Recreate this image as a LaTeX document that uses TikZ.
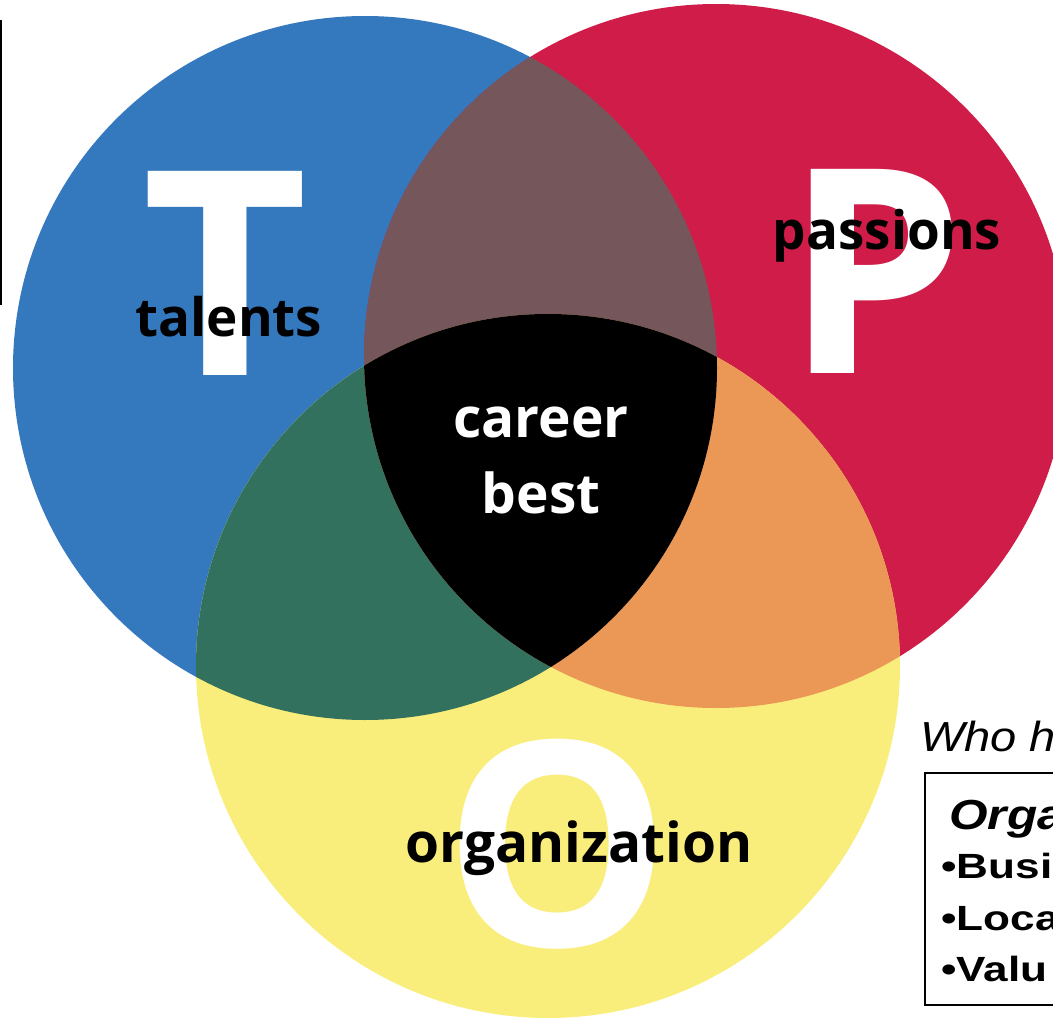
\documentclass[tikz,border=0pt]{standalone}
\usepackage{fontspec}
\newfontfamily\vennfont{Open Sans}
\newfontfamily\arialfont{Liberation Sans}
\definecolor{cblue}{HTML}{3478BE}
\definecolor{cred}{HTML}{D01C48}
\definecolor{cyellow}{HTML}{F9EE7B}
\definecolor{cbrown}{HTML}{74565B}
\definecolor{cgreen}{HTML}{33715F}
\definecolor{corange}{HTML}{EB9857}
\tikzset{
  bigletter/.style={inner sep=0pt, anchor=base, text=white, font=\vennfont\bfseries\fontsize{286}{286}\selectfont},
  vennlabel/.style={inner sep=0pt, anchor=base, text=black, font=\vennfont\bfseries\fontsize{53}{53}\selectfont},
  centerlabel/.style={inner sep=0pt, anchor=base, text=white, font=\vennfont\bfseries\fontsize{55}{55}\selectfont},
  sidetext/.style={inner sep=0pt, anchor=base west, text=black},
  itemtext/.style={sidetext, xscale=1.26, font=\arialfont\bfseries\fontsize{35}{35}\selectfont},
}
\begin{document}
\begin{tikzpicture}[x=1pt,y=-1pt]
\useasboundingbox (0,0) rectangle (1053,1019);
\begin{scope}
\clip (0,0) rectangle (1053,1019);
% circles
\fill[cblue] (365,368) circle (352);
\fill[cred] (716,356) circle (352);
\fill[cyellow] (548,666) circle (352);
\begin{scope}
  \clip (365,368) circle (352);
  \fill[cbrown] (716,356) circle (352);
  \fill[cgreen] (548,666) circle (352);
\end{scope}
\begin{scope}
  \clip (716,356) circle (352);
  \fill[corange] (548,666) circle (352);
\end{scope}
\begin{scope}
  \clip (365,368) circle (352);
  \clip (716,356) circle (352);
  \fill[black] (548,666) circle (352);
\end{scope}
% big letters
\node[bigletter] (T) at (225,375) {T};
\node[bigletter] (P) at (875,373) {P};
\node[bigletter] (O) at (557,946) {O};
% labels
\node[vennlabel] (talents) at (229,337) {talents};
\node[vennlabel] (passions) at (887,250) {passions};
\node[vennlabel, font=\vennfont\bfseries\fontsize{55}{55}\selectfont] (organization) at (579,862) {organization};
\node[centerlabel] (career) at (541,437) {career};
\node[centerlabel] (best) at (541,513) {best};
% left border line
\coordinate (lt) at (1,20);
\coordinate (lb) at (1,305);
\draw[line width=2] (lt) -- (lb);
% right side text
\node[sidetext, xscale=1.12, font=\arialfont\itshape\fontsize{42}{42}\selectfont] (who) at (920,751) {Who h};
\draw[line width=2] (925,773) rectangle (1075,1005);
\node[sidetext, xscale=1.18, font=\arialfont\bfseries\itshape\fontsize{42}{42}\selectfont] (orga) at (949,829) {Orga};
\node[itemtext] (busi) at (941,878) {•Busi};
\node[itemtext] (loca) at (941,930) {•Loca};
\node[itemtext] (valu) at (941,981) {•Valu};
\end{scope}
\end{tikzpicture}
\end{document}
